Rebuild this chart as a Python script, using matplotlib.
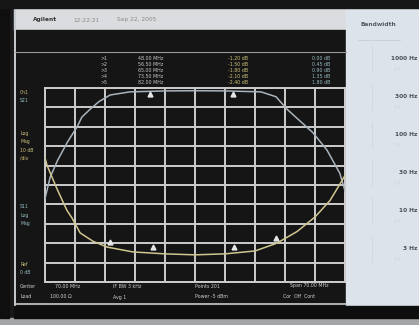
import numpy as np
import matplotlib
matplotlib.use('Agg')
import matplotlib.pyplot as plt
from matplotlib.patches import Rectangle

# trace data (frequency in MHz, level in dB)
freq_s21 = [35.0, 36.2, 38.0, 40.2, 42.5, 43.6, 45.5, 47.6, 50.2, 54.8, 63.0, 70.0,
            77.0, 85.4, 88.9, 91.5, 94.5, 97.5, 100.8, 103.8, 105.0]
db_s21 = [-57, -46, -37, -28, -20, -15, -11, -7, -3.6, -2, -1.5, -1.4,
          -1.5, -2, -4.5, -11, -17, -23, -32, -44, -53]

freq_s11 = [35.0, 35.5, 37.8, 40.1, 41.3, 43.2, 46.2, 49.5, 55.5, 63.0, 70.0,
            77.0, 84.0, 89.1, 93.8, 98.0, 101.5, 104.5, 105.0]
db_s11 = [-36, -40, -52, -63, -67, -74.7, -79, -82, -84.5, -85.5, -86,
          -85.5, -84, -80, -74, -66.5, -58, -47, -45]

markers_s21 = [59.5, 78.9]
markers_s11 = [50.2, 60.2, 79.1, 88.9]

f_start, f_stop = 35.0, 105.0
ref_top, ref_bottom = 0, -100

softkeys = ['1000 Hz', '300 Hz', '100 Hz', '30 Hz', '10 Hz', '3 Hz']

W, H = 419, 325
fig = plt.figure(figsize=(W / 100, H / 100), dpi=100)
fig.patch.set_facecolor('#1a1a1a')

bg = fig.add_axes([0, 0, 1, 1])
bg.set_xlim(0, W)
bg.set_ylim(H, 0)
bg.axis('off')

screen = '#151515'
panel = '#dde3ea'
# bottom bezel strip
bg.add_patch(Rectangle((0, 318), W, 7, color='#a4a6a8', zorder=0))
# title bar
bg.add_patch(Rectangle((14, 9), 332, 21, color='#dadcdf', zorder=1))
bg.text(33, 20, 'Agilent', fontsize=4.2, color='#333333', weight='bold', va='center')
bg.text(73, 20, '12:22:21', fontsize=4.2, color='#8a8a8a', va='center')
bg.text(117, 20, 'Sep 22, 2005', fontsize=4.2, color='#8a8a8a', va='center')
# screen area
bg.add_patch(Rectangle((14, 30), 332, 276, color=screen, zorder=1))
bg.plot([14.5, 14.5], [9, 306], color='#c8ccd0', lw=1.4, zorder=2)
bg.plot([15, 346], [52, 52], color='#9a9a9a', lw=0.8, zorder=2)
bg.plot([15, 346], [304, 304], color='#c8ccd0', lw=1.2, zorder=2)
bg.add_patch(Rectangle((14, 306), 405, 12, color='#0e0e0e', zorder=2))
bg.add_patch(Rectangle((0, 0), 9, 318, color='#0f0f0f', zorder=3))
bg.add_patch(Rectangle((0, 0), W, 8, color='#161616', zorder=3))

# softkey panel
bg.add_patch(Rectangle((346, 9), 73, 297, color=panel, zorder=1))
bg.text(360, 25, 'Bandwidth', fontsize=4.2, color='#555a60', weight='bold', va='center')
bg.plot([358, 400], [40, 40], color='#c8ced6', lw=0.6, zorder=2)
for i, s in enumerate(softkeys):
    y = 58 + i * 38
    bg.text(417, y, s, fontsize=4.2, color='#4a4f55', weight='bold', ha='right', va='center')
    bg.text(395, y + 10, '[ ]', fontsize=3, color='#c0c6ce', ha='left', va='center')
    bg.plot([372, 372], [y - 12, y + 14], color='#d0d6dd', lw=0.6, zorder=2)

# marker readout table
gray_txt = '#c4c7ca'
yellow_txt = '#d2c47c'
cyan_txt = '#96bcc2'
for r in range(5):
    y = 58 + r * 6
    bg.text(100, y, '>%d' % (r + 1), fontsize=3.4, color=gray_txt, va='center')
    bg.text(138, y, '%0.2f MHz' % (48 + r * 8.5), fontsize=3.4, color=gray_txt, va='center')
    bg.text(228, y, '-%0.2f dB' % (1.2 + r * 0.3), fontsize=3.4, color=yellow_txt, va='center')
    bg.text(312, y, '%0.2f dB' % (r * 0.45), fontsize=3.4, color=cyan_txt, va='center')

# left scale annotations
bg.text(20, 93, 'Ch1', fontsize=3.3, color=yellow_txt, va='center')
bg.text(20, 101, 'S21', fontsize=3.3, color=cyan_txt, va='center')
for i, s in enumerate(['Log', 'Mag', '10 dB', '/div']):
    bg.text(20, 134 + i * 8, s, fontsize=3.3, color=yellow_txt, va='center')
for i, s in enumerate(['S11', 'Log', 'Mag']):
    bg.text(20, 207 + i * 8, s, fontsize=3.3, color=cyan_txt, va='center')
bg.text(20, 264, 'Ref', fontsize=3.3, color=yellow_txt, va='center')
bg.text(20, 272, '0 dB', fontsize=3.3, color=cyan_txt, va='center')

# bottom annotations
row1 = [(20, 'Center'), (55, '70.00 MHz'), (113, 'IF BW 3 kHz'), (195, 'Points 201'), (290, 'Span 70.00 MHz')]
row2 = [(20, 'Load'), (50, '100.00 \u03a9'), (113, 'Avg 1'), (195, 'Power -5 dBm'), (283, 'Cor  Off  Cont')]
for x, s in row1:
    bg.text(x, 286, s, fontsize=3.4, color='#d0d0d0', va='center')
for x, s in row2:
    bg.text(x, 297, s, fontsize=3.4, color='#d0d0d0', va='center')

# measurement grid
gx0, gy0, gw, gh = 45, 88, 300, 194
ax = fig.add_axes([gx0 / W, 1 - (gy0 + gh) / H, gw / W, gh / H])
ax.set_facecolor(screen)
ax.set_xlim(f_start, f_stop)
ax.set_ylim(ref_bottom, ref_top)
ax.set_xticks(np.linspace(f_start, f_stop, 11))
ax.set_yticks(np.linspace(ref_bottom, ref_top, 11))
ax.tick_params(length=0, labelbottom=False, labelleft=False)
ax.grid(True, color='#cccccc', lw=1.4)
for sp in ax.spines.values():
    sp.set_color('#cccccc')
    sp.set_linewidth(1.4)

ax.plot(freq_s21, db_s21, color='#a9b3bb', lw=1.1, zorder=3)
ax.plot(freq_s11, db_s11, color='#cfc690', lw=1.1, zorder=3)
ax.plot(markers_s21, np.interp(markers_s21, freq_s21, db_s21) - 1.5, '^',
        color='#e6e6e6', ms=3.5, zorder=4)
ax.plot(markers_s11, np.interp(markers_s11, freq_s11, db_s11) + 3, '^',
        color='#e6e6e6', ms=3.5, zorder=4)

fig.savefig('out.png', dpi=100, facecolor=fig.get_facecolor())
